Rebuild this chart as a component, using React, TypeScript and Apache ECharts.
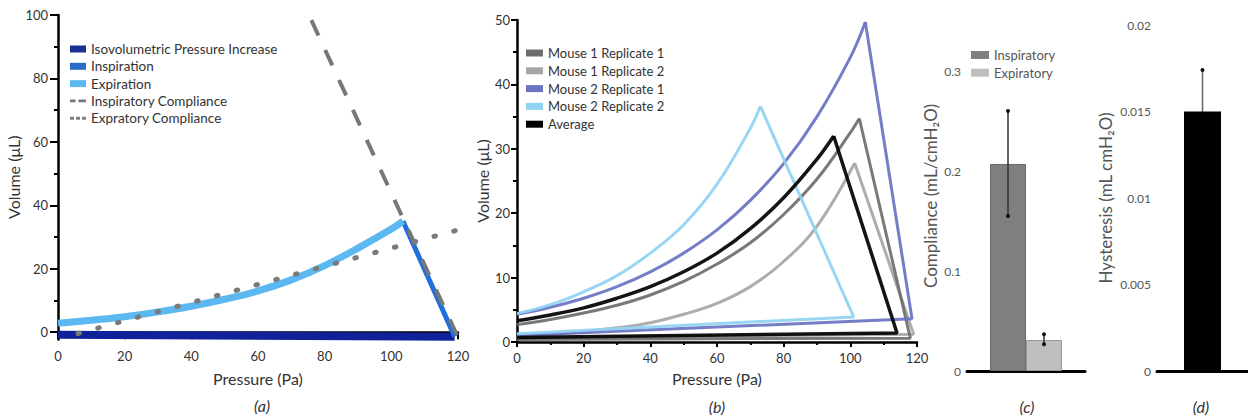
import { useEffect, useRef } from "react";
import * as echarts from "echarts";

// ---------- Panel (a) ----------
const A_ISO_P = [0, 119];
const A_ISO_V = [-0.8, -1.4];
const A_INSP_P = [119, 103.5];
const A_INSP_V = [-1.4, 35];
const A_EXP_P = [103.5, 100, 90, 80, 70, 60, 50, 40, 30, 20, 10, 0];
const A_EXP_V = [35, 32.5, 26.5, 21.0, 16.5, 13.0, 10.4, 8.2, 6.4, 4.9, 3.8, 2.8];
const A_ICOMP_P = [76, 120];
const A_ICOMP_V = [98.4, -1.6];
const A_ECOMP_P = [6, 119.5];
const A_ECOMP_V = [-0.4, 32.1];
const A_Y_LABELS = [0, 20, 40, 60, 80, 100];
const A_Y_MINOR = [10, 30, 50, 70, 90];

// ---------- Panel (b) ----------
const M1R1_LOOP_P = [0, 118, 102.7];
const M1R1_LOOP_V = [0.4, 0.6, 34.7];
const M1R1_EXP_P = [0, 10, 20, 30, 40, 50, 60, 70, 80, 90, 100, 102.7];
const M1R1_EXP_V = [2.7, 3.5, 4.5, 5.7, 7.3, 9.4, 12.1, 15.4, 19.8, 25.3, 32.5, 34.7];

const M1R2_LOOP_P = [0, 119, 101.3];
const M1R2_LOOP_V = [0.6, 1.2, 27.8];
const M1R2_EXP_P = [0, 10, 20, 30, 40, 50, 60, 70, 80, 90, 101.3];
const M1R2_EXP_V = [0.8, 1.1, 1.6, 2.2, 3.0, 4.3, 6.0, 8.6, 12.5, 18.0, 27.8];

const M2R1_LOOP_P = [0, 118.5, 104.5];
const M2R1_LOOP_V = [1.0, 3.6, 49.7];
const M2R1_EXP_P = [0, 10, 20, 30, 40, 50, 60, 70, 80, 90, 100, 104.5];
const M2R1_EXP_V = [4.3, 5.4, 6.8, 8.6, 10.9, 13.8, 17.4, 22.0, 27.7, 35.0, 44.2, 49.7];

const M2R2_LOOP_P = [0, 101, 73];
const M2R2_LOOP_V = [1.3, 3.9, 36.6];
const M2R2_EXP_P = [0, 10, 20, 30, 40, 50, 60, 70, 73];
const M2R2_EXP_V = [4.4, 5.8, 7.8, 10.3, 13.8, 18.2, 24.5, 33.2, 36.6];

const AVG_LOOP_P = [0, 114, 95];
const AVG_LOOP_V = [0.7, 1.4, 32.0];
const AVG_EXP_P = [0, 10, 20, 30, 40, 50, 60, 70, 80, 90, 95];
const AVG_EXP_V = [3.3, 4.2, 5.3, 6.8, 8.6, 10.9, 13.8, 17.6, 22.4, 28.4, 32.0];

// ---------- Panel (c) ----------
const C_CATS = [""];
const C_INSP = [0.207];
const C_EXP = [0.031];
const C_INSP_ERR = [0.155, 0.26];
const C_EXP_ERR = [0.0267, 0.0367];
const C_Y_LABELS = [0, 0.1, 0.2, 0.3];
const C_Y_TICKS = [0, 0.025, 0.05, 0.075, 0.1, 0.125, 0.15, 0.175, 0.2, 0.225, 0.25, 0.275, 0.3, 0.325, 0.35];

// ---------- Panel (d) ----------
const D_CATS = [""];
const D_HYST = [0.015];
const D_ERR = [0.0126, 0.0174];
const D_Y_LABELS = [0, 0.005, 0.01, 0.015, 0.02];
const D_Y_TICKS = [0, 0.0025, 0.005, 0.0075, 0.01, 0.0125, 0.015, 0.0175, 0.02];

const FONT = "Lato";
const zip = (xs: number[], ys: number[]) => xs.map((x, i) => [x, ys[i]]);

export default function App() {
  const ref = useRef<HTMLDivElement>(null);

  useEffect(() => {
    document.body.style.margin = "0";
    const chart = echarts.init(ref.current!, null, { renderer: "svg" });

    const BAR_C = 36;
    const BAR_D = 37;

    const errRender = (offset: number, lineColor: string) => (params: any, api: any) => {
      const x = api.value(0);
      const pLo = api.coord([x, api.value(1)]);
      const pHi = api.coord([x, api.value(2)]);
      const cx = pLo[0] + offset;
      return {
        type: "group",
        children: [
          { type: "line", shape: { x1: cx, y1: pLo[1], x2: cx, y2: pHi[1] }, style: { stroke: lineColor, lineWidth: 1.5 } },
          { type: "circle", shape: { cx, cy: pLo[1], r: 2 }, style: { fill: "#111" } },
          { type: "circle", shape: { cx, cy: pHi[1], r: 2 }, style: { fill: "#111" } },
        ],
      };
    };

    const xyAxisCommon = {
      axisLine: { lineStyle: { color: "#000", width: 2.5 } },
      splitLine: { show: false },
      nameLocation: "middle",
      nameTextStyle: { fontFamily: FONT, fontSize: 16, color: "#333" },
    };

    const loopSeries = (name: string, color: string, width: number, lp: number[], lv: number[], ep: number[], ev: number[]) => [
      {
        name, type: "line", xAxisIndex: 1, yAxisIndex: 2, data: zip(lp, lv), showSymbol: false, symbol: "none",
        lineStyle: { color, width, opacity: 0.92 }, itemStyle: { color },
      },
      {
        name, type: "line", xAxisIndex: 1, yAxisIndex: 2, data: zip(ep, ev), showSymbol: false, symbol: "none", smooth: 0.4,
        lineStyle: { color, width, opacity: 0.92 }, itemStyle: { color },
      },
    ];

    const labelStyle = (size: number, color: string) => ({ fontFamily: FONT, fontSize: size, fontStyle: "italic", fill: color, align: "center", verticalAlign: "middle" });

    const option: any = {
      animation: false,
      textStyle: { fontFamily: FONT },
      grid: [
        { left: 58, top: 15, width: 400, height: 324.5 },
        { left: 517, top: 20, width: 400, height: 322 },
        { left: 967, top: 21, width: 118, height: 350 },
        { left: 1157, top: 25, width: 93, height: 346 },
      ],
      xAxis: [
        {
          ...xyAxisCommon, type: "value", gridIndex: 0, min: 0, max: 120, interval: 20,
          axisTick: { length: 7, lineStyle: { width: 2, color: "#000" } },
          minorTick: { show: true, splitNumber: 2, length: 5, lineStyle: { width: 2, color: "#000" } },
          minorSplitLine: { show: false },
          axisLabel: { fontFamily: FONT, fontSize: 13, color: "#333", margin: 10 },
          name: "Pressure (Pa)", nameGap: 31,
        },
        {
          ...xyAxisCommon, type: "value", gridIndex: 1, min: 0, max: 120, interval: 20,
          axisTick: { length: 5, lineStyle: { width: 2, color: "#000" } },
          minorTick: { show: true, splitNumber: 2, length: 3, lineStyle: { width: 2, color: "#000" } },
          minorSplitLine: { show: false },
          axisLabel: { fontFamily: FONT, fontSize: 13, color: "#333", margin: 9 },
          name: "Pressure (Pa)", nameGap: 28,
        },
        {
          type: "category", gridIndex: 2, data: C_CATS,
          axisLine: { lineStyle: { color: "#000", width: 3 } },
          axisTick: { show: false }, axisLabel: { show: false }, splitLine: { show: false },
        },
        {
          type: "category", gridIndex: 3, data: D_CATS,
          axisLine: { lineStyle: { color: "#000", width: 3 } },
          axisTick: { show: false }, axisLabel: { show: false }, splitLine: { show: false },
        },
      ],
      yAxis: [
        {
          ...xyAxisCommon, type: "value", gridIndex: 0, min: -2.3, max: 100, position: "left",
          axisTick: { length: 8, customValues: A_Y_LABELS, lineStyle: { width: 2, color: "#000" } },
          axisLabel: { fontFamily: FONT, fontSize: 13, color: "#333", margin: 10, customValues: A_Y_LABELS },
          name: "Volume (μL)", nameGap: 29,
        },
        {
          type: "value", gridIndex: 0, min: -2.3, max: 100, position: "left", offset: 0,
          axisLine: { show: false }, splitLine: { show: false }, axisLabel: { show: false },
          axisTick: { length: 4, customValues: A_Y_MINOR, lineStyle: { width: 2, color: "#000" } },
        },
        {
          ...xyAxisCommon, type: "value", gridIndex: 1, min: 0, max: 50, interval: 10, position: "left",
          axisTick: { length: 6, lineStyle: { width: 2, color: "#000" } },
          minorTick: { show: true, splitNumber: 2, length: 4, lineStyle: { width: 2, color: "#000" } },
          minorSplitLine: { show: false },
          axisLabel: { fontFamily: FONT, fontSize: 13, color: "#333", margin: 7 },
          name: "Volume (μL)", nameGap: 27,
        },
        {
          type: "value", gridIndex: 2, min: 0, max: 0.35, position: "left",
          axisLine: { lineStyle: { color: "#000", width: 1.2 } }, splitLine: { show: false },
          axisTick: { length: 3, customValues: C_Y_TICKS, lineStyle: { width: 3, color: "#000" } },
          axisLabel: { fontFamily: FONT, fontSize: 12, color: "#555", margin: 6, customValues: C_Y_LABELS },
          name: "Compliance (mL/cmH₂O)", nameLocation: "middle", nameGap: 28,
          nameTextStyle: { fontFamily: FONT, fontSize: 17, color: "#555" },
        },
        {
          type: "value", gridIndex: 3, min: 0, max: 0.02, position: "left",
          axisLine: { lineStyle: { color: "#000", width: 1.2 } }, splitLine: { show: false },
          axisTick: { length: 3, customValues: D_Y_TICKS, lineStyle: { width: 3, color: "#000" } },
          axisLabel: { fontFamily: FONT, fontSize: 12, color: "#555", margin: 6, customValues: D_Y_LABELS },
          name: "Hysteresis (mL cmH₂O)", nameLocation: "middle", nameGap: 43,
          nameTextStyle: { fontFamily: FONT, fontSize: 17, color: "#555" },
        },
      ],
      legend: [
        {
          orient: "vertical", left: 70, top: 42, padding: 0, itemWidth: 16, itemHeight: 7, itemGap: 3.3,
          textStyle: { fontFamily: FONT, fontSize: 13.5, color: "#333", lineHeight: 14 },
          itemStyle: { borderWidth: 0 },
          data: [
            { name: "Isovolumetric Pressure Increase", icon: "rect" },
            { name: "Inspiration", icon: "rect" },
            { name: "Expiration", icon: "rect" },
            { name: "Inspiratory Compliance", icon: "path://M0,0h6v3h-6z M9,0h8v3h-8z" },
            { name: "Expratory Compliance", icon: "path://M0,0h4v3h-4z M6,0h4v3h-4z M12,0h4v3h-4z" },
          ],
        },
        {
          orient: "vertical", left: 526, top: 46, padding: 0, itemWidth: 17, itemHeight: 7, itemGap: 3.8,
          textStyle: { fontFamily: FONT, fontSize: 13, color: "#333", lineHeight: 14 },
          itemStyle: { borderWidth: 0 },
          data: [
            { name: "Mouse 1 Replicate 1", icon: "rect" },
            { name: "Mouse 1 Replicate 2", icon: "rect" },
            { name: "Mouse 2 Replicate 1", icon: "rect" },
            { name: "Mouse 2 Replicate 2", icon: "rect" },
            { name: "Average", icon: "rect" },
          ],
        },
        {
          orient: "vertical", left: 971, top: 48, padding: 0, itemWidth: 18, itemHeight: 8, itemGap: 3.7,
          textStyle: { fontFamily: FONT, fontSize: 13, color: "#555", lineHeight: 14 },
          itemStyle: { borderWidth: 0 },
          data: [
            { name: "Inspiratory", icon: "rect" },
            { name: "Expiratory", icon: "rect" },
          ],
        },
      ],
      series: [
        // Panel (a)
        {
          name: "Isovolumetric Pressure Increase", type: "line", xAxisIndex: 0, yAxisIndex: 0,
          data: zip(A_ISO_P, A_ISO_V), symbol: "none", lineStyle: { color: "#10229a", width: 8 }, itemStyle: { color: "#1b3192" },
        },
        {
          name: "Inspiration", type: "line", xAxisIndex: 0, yAxisIndex: 0,
          data: zip(A_INSP_P, A_INSP_V), symbol: "none", lineStyle: { color: "#1f6fdc", width: 5 }, itemStyle: { color: "#2a6cc8" },
        },
        {
          name: "Expiration", type: "line", xAxisIndex: 0, yAxisIndex: 0, smooth: 0.4,
          data: zip(A_EXP_P, A_EXP_V), symbol: "none", lineStyle: { color: "#5bb8f0", width: 7 }, itemStyle: { color: "#5bb8f0" },
        },
        {
          name: "Inspiratory Compliance", type: "line", xAxisIndex: 0, yAxisIndex: 0,
          data: zip(A_ICOMP_P, A_ICOMP_V), symbol: "none",
          lineStyle: { color: "#777", width: 4, type: [17, 16], cap: "butt" }, itemStyle: { color: "#777" },
        },
        {
          name: "Expratory Compliance", type: "line", xAxisIndex: 0, yAxisIndex: 0,
          data: zip(A_ECOMP_P, A_ECOMP_V), symbol: "none",
          lineStyle: { color: "#7a7a7a", width: 5, type: [1.5, 19], cap: "round" }, itemStyle: { color: "#808080" },
        },
        // Panel (b)
        ...loopSeries("Mouse 1 Replicate 2", "#a6a6a6", 3, M1R2_LOOP_P, M1R2_LOOP_V, M1R2_EXP_P, M1R2_EXP_V),
        ...loopSeries("Mouse 1 Replicate 1", "#6e6e6e", 3, M1R1_LOOP_P, M1R1_LOOP_V, M1R1_EXP_P, M1R1_EXP_V),
        ...loopSeries("Mouse 2 Replicate 1", "#6a72c2", 3, M2R1_LOOP_P, M2R1_LOOP_V, M2R1_EXP_P, M2R1_EXP_V),
        ...loopSeries("Mouse 2 Replicate 2", "#8fd3f2", 3, M2R2_LOOP_P, M2R2_LOOP_V, M2R2_EXP_P, M2R2_EXP_V),
        ...loopSeries("Average", "#000000", 3.5, AVG_LOOP_P, AVG_LOOP_V, AVG_EXP_P, AVG_EXP_V),
        // Panel (c)
        {
          name: "Inspiratory", type: "bar", xAxisIndex: 2, yAxisIndex: 3, data: C_INSP, barWidth: BAR_C, barGap: "0%",
          itemStyle: { color: "#7f7f7f", borderColor: "#6a6a6a", borderWidth: 1 },
        },
        {
          name: "Expiratory", type: "bar", xAxisIndex: 2, yAxisIndex: 3, data: C_EXP, barWidth: BAR_C, barGap: "0%",
          itemStyle: { color: "#bfbfbf", borderColor: "#9a9a9a", borderWidth: 1 },
        },
        {
          type: "custom", xAxisIndex: 2, yAxisIndex: 3, renderItem: errRender(-BAR_C / 2, "#333"),
          data: [[0, C_INSP_ERR[0], C_INSP_ERR[1]]], encode: { x: 0, y: [1, 2] }, z: 5,
        },
        {
          type: "custom", xAxisIndex: 2, yAxisIndex: 3, renderItem: errRender(BAR_C / 2, "#333"),
          data: [[0, C_EXP_ERR[0], C_EXP_ERR[1]]], encode: { x: 0, y: [1, 2] }, z: 5,
        },
        // Panel (d)
        {
          type: "custom", xAxisIndex: 3, yAxisIndex: 4, renderItem: errRender(0, "#666"),
          data: [[0, D_ERR[0], D_ERR[1]]], encode: { x: 0, y: [1, 2] }, z: 1,
        },
        {
          name: "Hysteresis", type: "bar", xAxisIndex: 3, yAxisIndex: 4, data: D_HYST, barWidth: BAR_D,
          itemStyle: { color: "#000" }, z: 3,
        },
      ],
      graphic: [
        { type: "text", x: 262, y: 405, style: { text: "(a)", ...labelStyle(16, "#333") } },
        { type: "text", x: 717, y: 406, style: { text: "(b)", ...labelStyle(16, "#333") } },
        { type: "text", x: 1027, y: 406, style: { text: "(c)", ...labelStyle(16, "#333") } },
        { type: "text", x: 1201, y: 406, style: { text: "(d)", ...labelStyle(16, "#333") } },
      ],
    };

    chart.setOption(option);
    return () => chart.dispose();
  }, []);

  return <div ref={ref} style={{ width: 1248, height: 419 }} />;
}
